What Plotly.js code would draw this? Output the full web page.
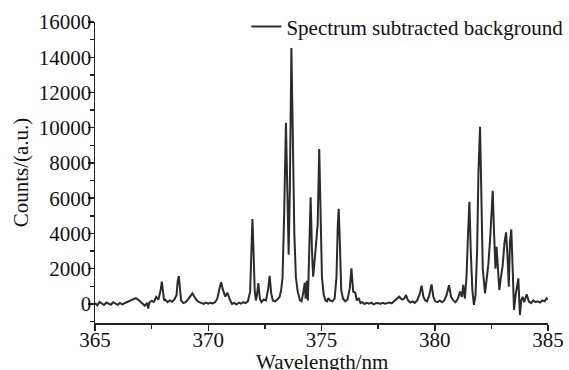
<!DOCTYPE html>
<html>
<head>
<meta charset="utf-8">
<script src="https://cdn.plot.ly/plotly-3.0.1.min.js"></script>
<style>html,body{margin:0;padding:0;background:#fff;}#chart{width:569px;height:370px;}</style>
</head>
<body>
<div id="chart"></div>
<script>
const seriesName = "Spectrum subtracted background";
const xTitle = "Wavelength/nm";
const yTitle = "Counts/(a.u.)";
const wavelength = [
365.00,365.10,365.20,365.30,365.40,365.50,365.60,365.70,365.80,365.90,
366.00,366.10,366.20,366.30,366.40,366.50,366.60,366.70,366.80,366.90,
367.00,367.10,367.20,367.30,367.35,367.40,367.50,367.60,367.70,367.80,
367.90,367.95,368.00,368.05,368.10,368.20,368.30,368.40,368.50,368.60,
368.65,368.70,368.75,368.80,368.90,369.00,369.10,369.20,369.30,369.40,
369.50,369.60,369.70,369.80,369.90,370.00,370.10,370.20,370.30,370.40,
370.50,370.57,370.65,370.75,370.85,370.95,371.05,371.15,371.25,371.35,
371.45,371.55,371.65,371.75,371.85,371.90,371.95,372.00,372.05,372.10,
372.15,372.21,372.28,372.35,372.45,372.55,372.65,372.71,372.78,372.85,
372.95,373.05,373.15,373.22,373.28,373.35,373.43,373.50,373.55,373.60,
373.67,373.74,373.80,373.87,373.95,374.05,374.12,374.20,374.26,374.30,
374.35,374.40,374.45,374.52,374.58,374.63,374.70,374.77,374.83,374.90,
374.96,375.02,375.10,375.18,375.25,375.30,375.38,375.48,375.58,375.66,
375.72,375.76,375.81,375.87,375.95,376.05,376.15,376.25,376.32,376.40,
376.49,376.56,376.64,376.72,376.80,376.90,377.00,377.10,377.20,377.30,
377.40,377.50,377.60,377.70,377.80,377.90,378.00,378.10,378.20,378.30,
378.43,378.55,378.65,378.73,378.82,378.92,379.02,379.12,379.22,379.32,
379.42,379.50,379.58,379.66,379.76,379.86,379.94,380.02,380.12,380.22,
380.32,380.42,380.52,380.63,380.72,380.82,380.92,381.02,381.12,381.20,
381.26,381.33,381.40,381.47,381.53,381.59,381.66,381.73,381.80,381.87,
381.93,382.00,382.06,382.12,382.22,382.30,382.37,382.45,382.52,382.56,
382.62,382.68,382.73,382.80,382.85,382.92,383.00,383.08,383.15,383.22,
383.27,383.32,383.38,383.44,383.50,383.57,383.63,383.69,383.76,383.82,
383.88,383.95,384.06,384.15,384.25,384.35,384.45,384.55,384.65,384.75,
384.85,384.94,385.00
];
const counts = [
60,-80,120,20,-60,80,0,-40,100,30,
-50,60,-20,40,90,150,220,280,330,250,
120,40,-100,60,-260,80,180,120,400,250,
800,1270,700,200,250,100,200,120,250,500,
1300,1580,900,200,50,100,250,400,600,380,
200,100,50,0,80,20,60,30,100,300,
900,1230,800,420,640,250,0,60,-30,80,
20,100,50,150,700,2500,4820,3000,800,200,
500,1190,300,100,250,200,900,1590,600,200,
150,250,400,800,1500,5000,10280,6000,2800,6300,
14530,9000,4000,1500,700,200,150,700,1200,300,
1320,200,2500,6050,3000,1550,2500,3820,4500,8790,
5000,1500,500,200,150,340,200,150,300,1500,
4500,5400,3500,800,300,150,250,900,2020,700,
640,200,340,50,100,0,60,20,80,-20,
40,60,0,70,20,50,80,40,150,300,
410,250,300,510,200,80,150,60,200,500,
1040,400,200,150,500,1110,400,150,100,200,
100,200,500,1060,400,200,100,300,700,400,
1080,300,1500,4000,5800,3000,800,-50,500,3000,
7500,10050,6000,2000,600,1500,2300,3800,6000,6420,
4000,2000,3250,1500,790,1500,2200,3500,4060,2500,
980,3500,4230,2000,-340,500,1000,1450,-620,200,
410,100,550,150,50,200,100,150,80,200,
150,320,250
];
const xTicks = [365, 370, 375, 380, 385];
const yTicks = [0, 2000, 4000, 6000, 8000, 10000, 12000, 14000, 16000];

const font = "Liberation Serif";
const txt = {family: font, size: 21, color: '#111'};
const trace = {
  x: wavelength, y: counts, type: 'scatter', mode: 'lines', name: seriesName,
  line: {color: '#2b2b2b', width: 2}
};
const layout = {
  width: 569, height: 370,
  margin: {l: 95, r: 21, t: 22, b: 47, autoexpand: false},
  paper_bgcolor: '#fff', plot_bgcolor: '#fff',
  font: txt,
  showlegend: true,
  legend: {x: 1.045, xanchor: 'right', y: 1.052, yanchor: 'top', bgcolor: 'rgba(0,0,0,0)',
           font: txt, itemwidth: 30, tracegroupgap: 0},
  annotations: [{
    text: xTitle, xref: 'paper', yref: 'paper', x: 0.5, xanchor: 'center',
    y: -0.088, yanchor: 'top', showarrow: false, font: txt, borderpad: 0
  }],
  xaxis: {
    range: [365, 385], tickvals: xTicks, ticktext: xTicks.map(String),
    showline: true, linecolor: '#222', linewidth: 1.5, mirror: false,
    ticks: 'outside', ticklen: 6, tickwidth: 1.5, tickcolor: '#222',
    minor: {dtick: 2.5, tick0: 365, ticks: 'outside', ticklen: 4, tickwidth: 1.5, tickcolor: '#222', showgrid: false},
    showgrid: false, zeroline: false, automargin: false,
    ticklabelstandoff: -9,
    tickfont: txt
  },
  yaxis: {
    range: [-1080, 16000], tickvals: yTicks, ticktext: yTicks.map(String),
    showline: true, linecolor: '#222', linewidth: 1.5, mirror: false,
    ticks: 'outside', ticklen: 6, tickwidth: 1.5, tickcolor: '#222',
    minor: {dtick: 1000, tick0: 0, ticks: 'outside', ticklen: 4, tickwidth: 1.5, tickcolor: '#222', showgrid: false},
    showgrid: false, zeroline: false, automargin: false,
    ticklabelstandoff: -8,
    tickfont: txt,
    title: {text: yTitle, font: txt, standoff: 4}
  }
};
Plotly.newPlot('chart', [trace], layout, {displayModeBar: false, staticPlot: true});
</script>
</body>
</html>
